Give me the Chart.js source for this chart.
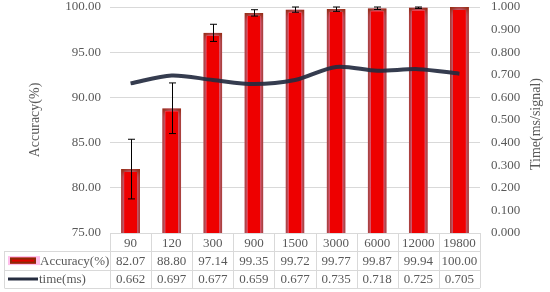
<!DOCTYPE html>
<html>
<head>
<meta charset="utf-8">
<script src="https://cdn.jsdelivr.net/npm/chart.js@4"></script>
<style>
  html, body { margin: 0; padding: 0; background: #fff; }
  #wrap { width: 550px; height: 292px; }
</style>
</head>
<body>
<div id="wrap"><canvas id="chart" width="550" height="292"></canvas></div>
<script>
const categories = ['90', '120', '300', '900', '1500', '3000', '6000', '12000', '19800'];
const accuracy = [82.07, 88.80, 97.14, 99.35, 99.72, 99.77, 99.87, 99.94, 100.00];
const accuracyErr = [3.3, 2.8, 0.95, 0.35, 0.3, 0.25, 0.15, 0.1, 0];
const timeMs = [0.662, 0.697, 0.677, 0.659, 0.677, 0.735, 0.718, 0.725, 0.705];

const FONT = 'Liberation Serif, "Times New Roman", serif';
const TXT = '#595959';
const LINE = '#d9d9d9';

// pink glow around the bars
const glowPlugin = {
    id: 'glow',
    beforeDatasetDraw(chart, args) {
        if (args.index !== 0) return;
        chart.ctx.save();
        chart.ctx.shadowColor = 'rgba(255, 140, 220, 1)';
        chart.ctx.shadowBlur = 7;
    },
    afterDatasetDraw(chart, args) {
        if (args.index !== 0) return;
        chart.ctx.restore();
    }
};

// error bars on the accuracy series
const errorBars = {
    id: 'errorBars',
    afterDatasetDraw(chart, args) {
        if (args.index !== 0) return;
        const ctx = chart.ctx;
        const y = chart.scales.y;
        const meta = chart.getDatasetMeta(0);
        ctx.save();
        ctx.strokeStyle = '#000';
        ctx.lineWidth = 1;
        meta.data.forEach((bar, i) => {
            const e = accuracyErr[i];
            if (!e) return;
            const top = y.getPixelForValue(Math.min(accuracy[i] + e, 100));
            const bot = y.getPixelForValue(accuracy[i] - e);
            const x = Math.round(bar.x) + 0.5;
            ctx.beginPath();
            ctx.moveTo(x, top); ctx.lineTo(x, bot);
            ctx.moveTo(x - 3.5, top); ctx.lineTo(x + 3.5, top);
            ctx.moveTo(x - 3.5, bot); ctx.lineTo(x + 3.5, bot);
            ctx.stroke();
        });
        ctx.restore();
    }
};

// right axis title, read bottom to top
const rightTitle = {
    id: 'rightTitle',
    afterDraw(chart) {
        const ctx = chart.ctx;
        const area = chart.chartArea;
        ctx.save();
        ctx.translate(536, (area.top + area.bottom) / 2 + 4);
        ctx.rotate(-Math.PI / 2);
        ctx.font = '14px ' + FONT;
        ctx.fillStyle = TXT;
        ctx.textAlign = 'center';
        ctx.textBaseline = 'middle';
        ctx.fillText('Time(ms/signal)', 0, 0);
        ctx.restore();
    }
};

// data table under the plot
const dataTable = {
    id: 'dataTable',
    afterDraw(chart) {
        const ctx = chart.ctx;
        const area = chart.chartArea;
        const left = area.left, right = area.right;
        const colW = (right - left) / categories.length;
        const rowH = 18.4;
        const y0 = area.bottom;
        const y1 = y0 + rowH, y2 = y1 + rowH, y3 = y2 + rowH;
        const x0 = 4.5;
        ctx.save();
        ctx.strokeStyle = LINE;
        ctx.lineWidth = 1;
        ctx.beginPath();
        ctx.moveTo(left, Math.round(y0) + 0.5); ctx.lineTo(right, Math.round(y0) + 0.5);
        [y1, y2, y3].forEach(yy => {
            ctx.moveTo(x0, Math.round(yy) + 0.5); ctx.lineTo(right, Math.round(yy) + 0.5);
        });
        ctx.moveTo(x0, Math.round(y1)); ctx.lineTo(x0, Math.round(y3));
        for (let i = 0; i <= categories.length; i++) {
            const xx = Math.round(left + i * colW) + 0.5;
            ctx.moveTo(xx, Math.round(y0)); ctx.lineTo(xx, Math.round(y3));
        }
        ctx.stroke();

        ctx.font = '13px ' + FONT;
        ctx.fillStyle = TXT;
        ctx.textAlign = 'center';
        ctx.textBaseline = 'middle';
        categories.forEach((c, i) => {
            const cx = left + (i + 0.5) * colW;
            ctx.fillText(c, cx, (y0 + y1) / 2 + 1);
            ctx.fillText(accuracy[i].toFixed(2), cx, (y1 + y2) / 2 + 1);
            ctx.fillText(timeMs[i].toFixed(3), cx, (y2 + y3) / 2 + 1);
        });

        // legend keys
        ctx.fillStyle = 'rgba(255, 190, 235, 1)';
        ctx.fillRect(8, (y1 + y2) / 2 - 4.5, 32, 9);
        ctx.fillStyle = '#e00000';
        ctx.fillRect(10, (y1 + y2) / 2 - 3, 26, 6);
        ctx.strokeStyle = '#8e2808';
        ctx.lineWidth = 2;
        ctx.strokeRect(11, (y1 + y2) / 2 - 2, 24, 4);
        ctx.strokeStyle = '#262d40';
        ctx.lineWidth = 3;
        ctx.beginPath();
        ctx.moveTo(8, (y2 + y3) / 2); ctx.lineTo(38, (y2 + y3) / 2);
        ctx.stroke();

        ctx.fillStyle = TXT;
        ctx.textAlign = 'left';
        ctx.fillText('Accuracy(%)', 40, (y1 + y2) / 2 + 1);
        ctx.fillText('time(ms)', 39, (y2 + y3) / 2 + 1);
        ctx.restore();
    }
};

function noOverhang(scale, w) {
    scale.width = w;
    scale.paddingTop = 0;
    scale.paddingBottom = 0;
}

const ctx = document.getElementById('chart').getContext('2d');
new Chart(ctx, {
    data: {
        labels: categories,
        datasets: [{
            type: 'bar',
            label: 'Accuracy(%)',
            data: accuracy,
            yAxisID: 'y',
            backgroundColor: '#ee0000',
            borderColor: '#8e2808',
            borderWidth: 3,
            borderSkipped: 'bottom',
            categoryPercentage: 1,
            barPercentage: 0.46,
            order: 1
        }, {
            type: 'line',
            label: 'time(ms)',
            data: timeMs,
            yAxisID: 'y1',
            borderColor: 'rgba(36, 43, 64, 0.92)',
            borderWidth: 4,
            pointRadius: 0,
            tension: 0.3,
            order: 0
        }]
    },
    options: {
        responsive: false,
        animation: false,
        layout: { padding: { top: 7, bottom: 59, left: 0, right: 0 } },
        plugins: {
            legend: { display: false },
            tooltip: { enabled: false }
        },
        scales: {
            x: {
                display: false,
                offset: true
            },
            y: {
                position: 'left',
                min: 75,
                max: 100,
                afterFit(scale) { noOverhang(scale, 110); },
                ticks: {
                    stepSize: 5,
                    padding: 9,
                    color: TXT,
                    font: { family: FONT, size: 13 },
                    callback: v => Number(v).toFixed(2)
                },
                grid: { color: LINE, drawTicks: false },
                border: { display: false },
                title: {
                    display: true,
                    text: 'Accuracy(%)',
                    color: TXT,
                    font: { family: FONT, size: 14 },
                    padding: { top: 27, bottom: 0 }
                }
            },
            y1: {
                position: 'right',
                min: 0,
                max: 1,
                afterFit(scale) { noOverhang(scale, 70); },
                ticks: {
                    stepSize: 0.1,
                    padding: 11,
                    color: TXT,
                    font: { family: FONT, size: 13 },
                    callback: v => Number(v).toFixed(3)
                },
                grid: { display: false, drawTicks: false },
                border: { display: false }
            }
        }
    },
    plugins: [glowPlugin, errorBars, rightTitle, dataTable]
});
</script>
</body>
</html>
